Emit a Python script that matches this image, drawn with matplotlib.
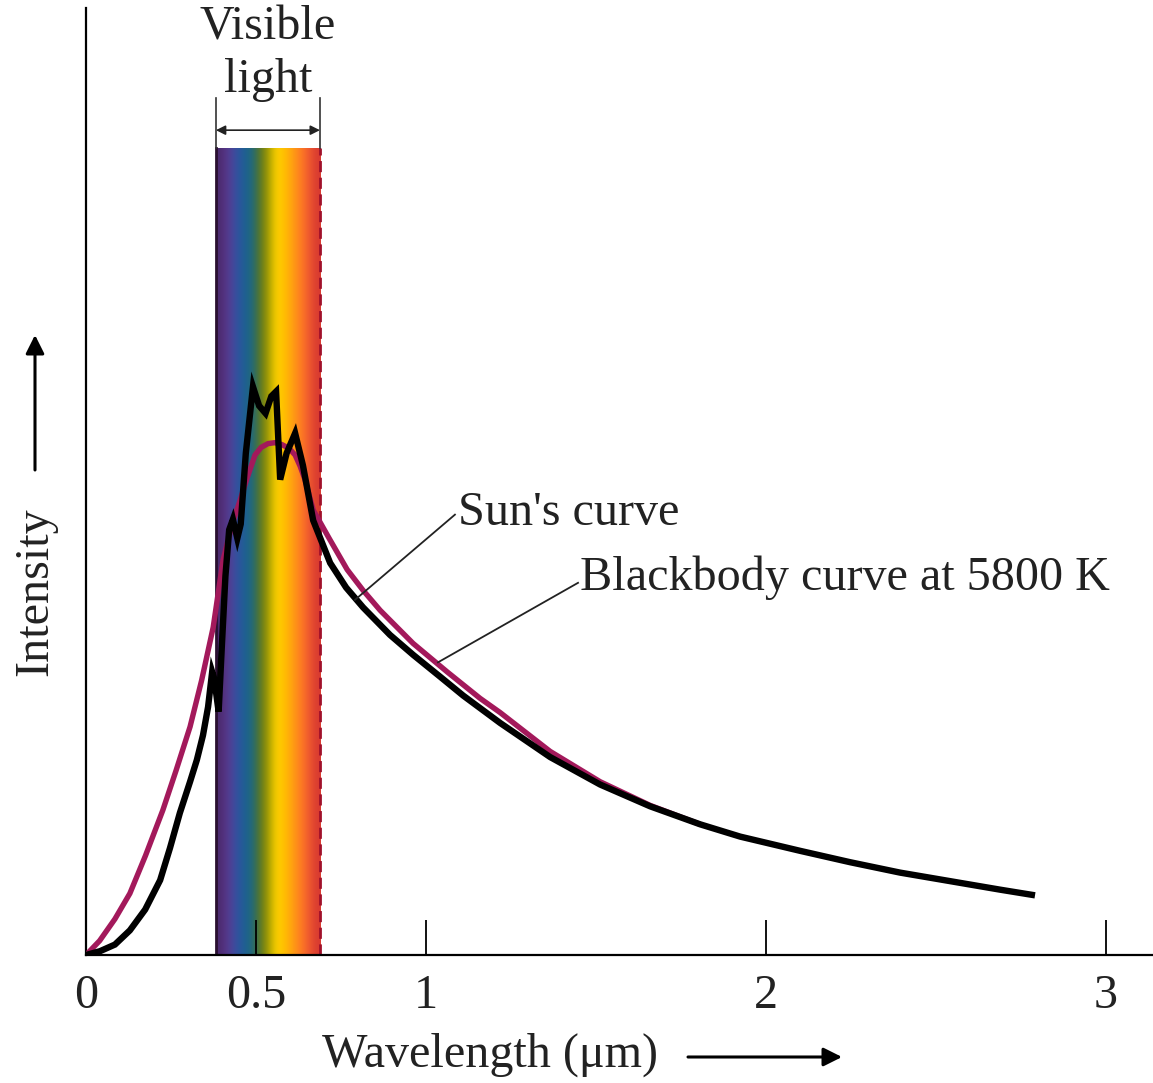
import numpy as np
import matplotlib
matplotlib.use("Agg")
import matplotlib.pyplot as plt
from matplotlib.colors import to_rgb

plt.rcParams['font.family'] = ['Liberation Serif', 'DejaVu Serif']

# wavelength (micrometres) and intensity (arbitrary units)
sun_wl = [0.000, 0.041, 0.085, 0.129, 0.174, 0.218, 0.247, 0.276, 0.306, 0.326,
          0.344, 0.359, 0.371, 0.377, 0.390, 0.400, 0.410, 0.421, 0.432, 0.445,
          0.455, 0.470, 0.491, 0.509, 0.528, 0.545, 0.559, 0.571, 0.590, 0.615,
          0.638, 0.668, 0.718, 0.765, 0.815, 0.894, 0.962, 1.041, 1.109, 1.218,
          1.365, 1.512, 1.659, 1.806, 1.924, 2.100, 2.247, 2.394, 2.541, 2.688,
          2.791]
sun_int = [0.000, 0.004, 0.011, 0.026, 0.048, 0.079, 0.113, 0.150, 0.183, 0.206,
           0.232, 0.262, 0.299, 0.292, 0.257, 0.330, 0.400, 0.449, 0.460, 0.440,
           0.455, 0.530, 0.600, 0.580, 0.572, 0.590, 0.595, 0.502, 0.530, 0.551,
           0.517, 0.459, 0.414, 0.388, 0.367, 0.338, 0.317, 0.294, 0.274, 0.245,
           0.209, 0.180, 0.157, 0.138, 0.125, 0.110, 0.098, 0.087, 0.078, 0.069,
           0.063]

bb_wl = [0.000, 0.040, 0.085, 0.129, 0.175, 0.226, 0.265, 0.306, 0.340, 0.374,
         0.403, 0.430, 0.453, 0.475, 0.497, 0.515, 0.535, 0.555, 0.576, 0.597,
         0.615, 0.630, 0.644, 0.668, 0.715, 0.768, 0.815, 0.865, 0.962, 1.062,
         1.159, 1.218, 1.365, 1.512, 1.659, 1.806]
bb_int = [0.000, 0.015, 0.038, 0.065, 0.105, 0.153, 0.195, 0.241, 0.290, 0.346,
          0.417, 0.455, 0.480, 0.505, 0.528, 0.536, 0.540, 0.541, 0.539, 0.535,
          0.528, 0.516, 0.502, 0.470, 0.440, 0.407, 0.385, 0.364, 0.329, 0.299,
          0.271, 0.256, 0.215, 0.183, 0.158, 0.138]

visible_range = (0.382, 0.688)
spectrum_colors = ['#4b2a6e', '#5a3a90', '#3550a2', '#1d5f95', '#1f6a7c',
                   '#5a7520', '#a59c00', '#ffd400', '#ffbe00', '#ff9f12',
                   '#ff7c22', '#f05a30', '#d83a30']

xticks = [0, 0.5, 1, 2, 3]
xticklabels = ['0', '0.5', '1', '2', '3']

FS = 34.7

fig = plt.figure(figsize=(11.53, 10.83), dpi=100)
ax = fig.add_axes([0.0746, 0.1182, 0.9254, 0.8744])
ax.set_xlim(0, 3.138)
ax.set_ylim(0, 1)

# spectrum band
band = np.array([[to_rgb(c) for c in spectrum_colors]])
ax.imshow(band, extent=[visible_range[0], visible_range[1], 0, 0.852],
          aspect='auto', interpolation='bicubic', zorder=1)
ax.plot([visible_range[0]] * 2, [0, 0.852], color='#2a1030', lw=2, zorder=2)
ax.plot([visible_range[1]] * 2, [0, 0.852], color='#a0102a', lw=2,
        ls=(0, (4, 2)), zorder=2)

# curves
ax.plot(bb_wl, bb_int, color='#a3195b', lw=3.9, solid_capstyle='butt',
        solid_joinstyle='round', zorder=3)
ax.plot(sun_wl, sun_int, color='black', lw=4.6, solid_joinstyle='miter',
        solid_capstyle='butt', zorder=4)

# visible light bracket
top = 0.905
ax.plot([visible_range[0]] * 2, [0.852, top], color='#333333', lw=1.2)
ax.plot([visible_range[1]] * 2, [0.852, top], color='#333333', lw=1.2)
ax.annotate('', xy=(visible_range[0], 0.871), xytext=(visible_range[1], 0.871),
            arrowprops=dict(arrowstyle='<|-|>', color='#222222', lw=1.2,
                            mutation_scale=14, shrinkA=0, shrinkB=0))
ax.text(0.535, 0.979, 'Visible', ha='center', va='center', fontsize=FS, color='#222222')
ax.text(0.535, 0.924, 'light', ha='center', va='center', fontsize=FS, color='#222222')

# leader labels
ax.plot([0.791, 1.085], [0.375, 0.465], color='#222222', lw=1.3, zorder=5)
ax.text(1.094, 0.467, "Sun's curve", ha='left', va='center', fontsize=FS, color='#222222')
ax.plot([1.035, 1.447], [0.309, 0.393], color='#222222', lw=1.3, zorder=5)
ax.text(1.453, 0.398, 'Blackbody curve at 5800 K', ha='left', va='center',
        fontsize=FS, color='#222222')

# axes styling
for side in ['top', 'right']:
    ax.spines[side].set_visible(False)
ax.spines['left'].set_linewidth(1.6)
ax.spines['bottom'].set_linewidth(1.6)
ax.set_yticks([])
ax.set_xticks(xticks)
ax.set_xticklabels(xticklabels, fontsize=FS, color='#222222')
ax.tick_params(axis='x', direction='in', length=25, width=1.3, pad=14)
ax.xaxis.get_major_ticks()[0].tick1line.set_visible(False)

# axis titles with arrows
fig.text(0.0304, 0.4534, 'Intensity', rotation=90, ha='center', va='center',
         fontsize=FS, color='#222222')
fig.text(0.425, 0.0259, 'Wavelength (μm)', ha='center', va='center',
         fontsize=FS, color='#222222')
ax.annotate('', xy=(35, 748), xytext=(35, 613), xycoords='figure pixels',
            textcoords='figure pixels',
            arrowprops=dict(arrowstyle='-|>', color='black', lw=2.2,
                            mutation_scale=28, shrinkA=0, shrinkB=0))
ax.annotate('', xy=(842, 26), xytext=(688, 26), xycoords='figure pixels',
            textcoords='figure pixels',
            arrowprops=dict(arrowstyle='-|>', color='black', lw=2.2,
                            mutation_scale=28, shrinkA=0, shrinkB=0))

fig.savefig('out.png', dpi=100)
